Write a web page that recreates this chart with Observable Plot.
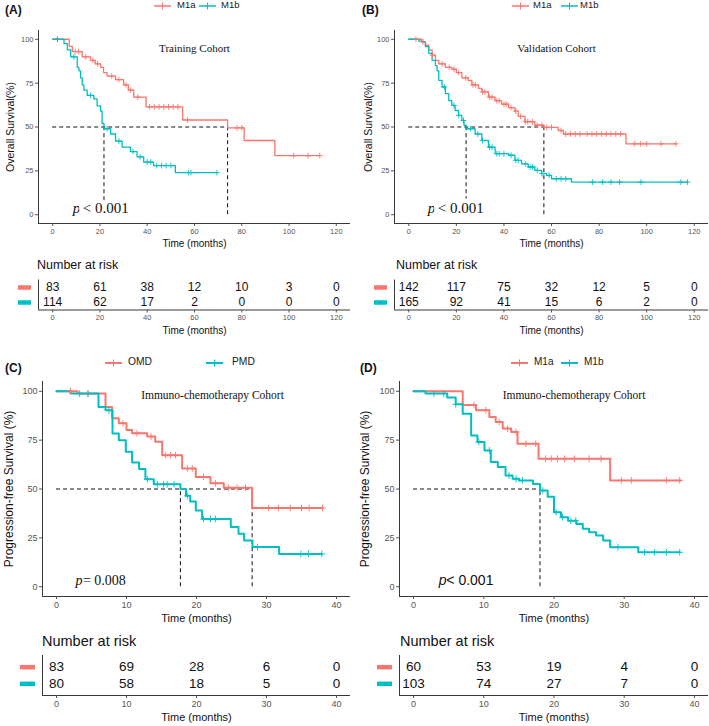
<!DOCTYPE html>
<html>
<head>
<meta charset="utf-8">
<script src="https://cdn.jsdelivr.net/npm/d3@7"></script>
<script src="https://cdn.jsdelivr.net/npm/@observablehq/plot@0.6"></script>
<style>
html,body{margin:0;padding:0;background:#fff;}
#root{position:relative;width:709px;height:726px;overflow:hidden;background:#fff;font-family:"Liberation Sans",Arial,sans-serif;color:#111;}
.abs{position:absolute;white-space:nowrap;line-height:1;}
</style>
</head>
<body>
<div id="root"></div>
<script>
// ---------------- DATA ----------------
const RED = "#F8766D", CYAN = "#00BFC4";

// Panel A : Training Cohort (overall survival)
const aGroups = ["M1a", "M1b"];
const aM1aTime = [0, 7, 8.3, 12.5, 16, 18, 20.3, 21.5, 23, 26.6, 30, 32, 34.3, 39.5, 55, 74, 81, 94, 113];
const aM1aSurv = [100, 96, 93, 90, 88, 86, 84, 81, 79, 77, 74, 71, 67, 61.5, 54, 49.5, 42.3, 33.7, 33.7];
const aM1aCensor = [2, 9.5, 11, 14, 17, 19, 25, 28, 31, 33, 36, 41, 43, 45, 47, 49, 51, 53, 57, 78, 80, 102, 108, 113];
const aM1bTime = [0, 4.8, 6.2, 7.6, 10.4, 11.1, 11.8, 12.5, 13.2, 14.6, 17.4, 18.8, 20.3, 20.9, 21.7, 24.5, 26.6, 29.4, 32.9, 35.7, 38.5, 42.7, 51.9, 69.5];
const aM1bSurv = [100, 97.5, 94, 90, 84, 82, 78, 74, 71, 68, 66, 62, 59, 52, 49, 46, 42, 38.5, 36, 33, 30, 28, 24, 24];
const aM1bCensor = [2, 9, 16, 23, 28, 34, 37, 40, 41.5, 44, 46, 48, 50, 57.5, 58.5, 69.5];
const aMedians = [74, 21.7];
const aRiskTimes = [0, 20, 40, 60, 80, 100, 120];
const aRiskM1a = [83, 61, 38, 12, 10, 3, 0];
const aRiskM1b = [114, 62, 17, 2, 0, 0, 0];

// Panel B : Validation Cohort (overall survival)
const bGroups = ["M1a", "M1b"];
const bM1aTime = [0, 5.6, 7, 8.4, 9.8, 11.2, 12.6, 15.4, 18.1, 20, 22.3, 25, 26.5, 29.3, 30.7, 33.5, 36.3, 39, 42, 44.6, 46, 48.8, 53, 56.8, 62.8, 65, 91.3, 112.3];
const bM1aSurv = [100, 98.5, 96.6, 94, 91, 88, 86, 84, 83, 81, 78, 76.5, 74, 72, 70, 67, 65, 63, 61, 59, 56, 53, 51, 49.8, 48, 46, 40.4, 40.4];
const bM1aCensor = [3, 6, 10, 14, 17, 19, 21, 24, 27, 28, 31, 32, 34, 35, 37, 38, 40, 41, 43, 45, 47, 49, 50, 52, 54, 56, 58, 60, 64, 66, 68, 70, 72, 75, 77, 79, 81, 83, 85, 87, 89, 95, 97.5, 100, 106, 112.3];
const bM1bTime = [0, 4.2, 5.6, 7, 8.4, 9.8, 11.2, 11.9, 12.6, 14, 15.4, 16.8, 18.1, 19.5, 20.9, 22.3, 23.2, 24.1, 27.9, 30.7, 33.5, 36.3, 41.9, 44.6, 47.4, 50.2, 53, 55.8, 58, 60, 68.4, 117.2];
const bM1bSurv = [100, 99, 98.5, 95.8, 92, 88, 85, 82, 76.6, 72.8, 69, 65, 62.3, 59.4, 56.6, 53.7, 51, 49, 46, 42.3, 38.5, 34.8, 33.9, 31, 29, 27.2, 25.3, 23.4, 22.4, 20.5, 18.6, 18.6];
const bM1bCensor = [15, 19, 21, 23, 26, 29, 31, 34, 35, 37, 38, 40, 43, 45, 46, 49, 51, 52, 54, 56, 59, 62, 64, 66, 77.3, 81.5, 85, 88.6, 97.6, 114.4, 117.2];
const bMedians = [56.8, 24.1];
const bRiskTimes = [0, 20, 40, 60, 80, 100, 120];
const bRiskM1a = [142, 117, 75, 32, 12, 5, 0];
const bRiskM1b = [165, 92, 41, 15, 6, 2, 0];

// Panel C : Immuno-chemotherapy Cohort (PFS, OMD vs PMD)
const cGroups = ["OMD", "PMD"];
const cOMDTime = [0, 3, 7, 7.95, 8.9, 10, 10.8, 12.95, 14.1, 15.1, 17.95, 19.9, 22, 23.9, 27.95, 38];
const cOMDSurv = [100, 98.8, 92, 86.2, 83.6, 80.2, 78.5, 76.8, 74.2, 67.3, 60.5, 56.2, 53, 50.6, 40.3, 40.3];
const cOMDCensor = [2, 4.5, 9.5, 11.5, 13.5, 15.6, 16.3, 17, 18.7, 19.4, 21, 22.7, 24.6, 25.8, 27, 30.3, 31.7, 33.4, 35, 36.1, 38];
const cPMDTime = [0, 2, 6, 7, 8, 8.9, 9.9, 10.8, 11.8, 12.7, 13.9, 17.7, 18.5, 19.1, 19.9, 20.8, 24.9, 26, 26.8, 28, 31.8, 37.9];
const cPMDSurv = [100, 98.8, 92, 90.3, 78.4, 75, 69, 63.6, 60.2, 55, 52.4, 50, 46.5, 43.6, 39, 34.7, 30.5, 27.1, 23.7, 20.3, 16.8, 16.8];
const cPMDCensor = [3.3, 4.5, 7.5, 13, 14.4, 15.3, 15.8, 16.8, 18.7, 21, 22, 22.7, 28.7, 34.9, 36, 37.9];
const cMedians = [27.95, 17.7];
const cRiskTimes = [0, 10, 20, 30, 40];
const cRiskOMD = [83, 69, 28, 6, 0];
const cRiskPMD = [80, 58, 18, 5, 0];

// Panel D : Immuno-chemotherapy Cohort (PFS, M1a vs M1b)
const dGroups = ["M1a", "M1b"];
const dM1aTime = [0, 7, 8.9, 10.8, 11.7, 12.7, 13.9, 14.8, 17.8, 28, 38];
const dM1aSurv = [100, 93, 90.3, 86.9, 84.3, 80.9, 79.2, 73.2, 65.5, 54.4, 54.4];
const dM1aCensor = [8.6, 10.3, 12.2, 13.4, 14.6, 16, 17.4, 18.8, 19.6, 20.5, 21.5, 22.9, 25, 26.7, 29.6, 31, 36, 37.9];
const dM1bTime = [0, 1.7, 4.8, 6, 7, 8.2, 9.1, 10.1, 11, 12, 13.1, 14.1, 15, 17, 18, 19.1, 20, 21, 22, 23.2, 24.1, 25, 26, 27, 28, 32, 37.9];
const dM1bSurv = [100, 98.8, 96.8, 93.3, 88.5, 77.4, 74, 69.7, 63.8, 61.2, 56.9, 55.2, 54.4, 52.6, 49.2, 46, 38.1, 35.6, 33.8, 32.1, 29.6, 27.9, 26.2, 23.6, 20.2, 17.6, 17.6];
const dM1bCensor = [2.9, 4.3, 6, 9.3, 10.8, 13.6, 14.6, 15.5, 18.4, 20.3, 21.2, 22.4, 23.1, 29.1, 32.9, 34.3, 36, 37.9];
const dMedians = [18];
const dRiskTimes = [0, 10, 20, 30, 40];
const dRiskM1a = [60, 53, 19, 4, 0];
const dRiskM1b = [103, 74, 27, 7, 0];

// axis settings
const osTicks = [0, 20, 40, 60, 80, 100, 120];
const osDomain = [-6, 126];
const pfsTicks = [0, 10, 20, 30, 40];
const pfsDomain = [-2, 42];
const kmYDomain = [-5, 105];
const kmYTicks = [0, 25, 50, 75, 100];
const medianLevel = 50;

// ---------------- HELPERS ----------------
const SANS = "'Liberation Sans', Arial, sans-serif";
const SERIF = "'Liberation Serif', 'Times New Roman', serif";
const root = document.getElementById("root");

function place(el, left, top) {
  el.style.position = "absolute";
  el.style.left = left + "px";
  el.style.top = top + "px";
  root.appendChild(el);
}
function htmlText(txt, left, top, css) {
  const d = document.createElement("div");
  d.className = "abs";
  d.textContent = txt;
  Object.assign(d.style, css || {});
  place(d, left, top);
}
function legendItem(color, label, keyLeft, textLeft, centerY, fs, lw) {
  const ns = "http://www.w3.org/2000/svg";
  const w = 17, h = 10;
  const svg = document.createElementNS(ns, "svg");
  svg.setAttribute("width", w); svg.setAttribute("height", h);
  const l1 = document.createElementNS(ns, "line");
  l1.setAttribute("x1", 0); l1.setAttribute("x2", w); l1.setAttribute("y1", h / 2); l1.setAttribute("y2", h / 2);
  l1.setAttribute("stroke", color); l1.setAttribute("stroke-width", lw);
  const l2 = document.createElementNS(ns, "line");
  l2.setAttribute("x1", w / 2); l2.setAttribute("x2", w / 2); l2.setAttribute("y1", 1.5); l2.setAttribute("y2", h - 1.5);
  l2.setAttribute("stroke", color); l2.setAttribute("stroke-width", 1);
  svg.appendChild(l1); svg.appendChild(l2);
  place(svg, keyLeft, centerY - h / 2);
  htmlText(label, textLeft, centerY - 0.5 * fs - 0.1 * fs, {fontSize: fs + "px", color: "#1a1a1a"});
}

function series(name, time, surv, censor) { return {name, time, surv, censor}; }
function survAt(s, t) {
  let v = s.surv[0];
  for (let i = 0; i < s.time.length; i++) if (s.time[i] <= t) v = s.surv[i];
  return v;
}

function kmPlot(o) {
  const rows = o.series.flatMap(s => s.time.map((t, i) => ({t, v: s.surv[i], g: s.name})));
  const cens = o.series.flatMap(s => s.censor.map(t => ({t, v: survAt(s, t), g: s.name})));
  const svg = Plot.plot({
    width: o.width, height: o.height,
    marginLeft: o.ml, marginRight: o.mr, marginTop: o.mt, marginBottom: o.mb,
    x: {domain: o.xDomain},
    y: {domain: kmYDomain},
    color: {domain: o.groups, range: [RED, CYAN]},
    style: {background: "transparent", fontFamily: SANS, overflow: "visible"},
    marks: [
      Plot.ruleX([o.xDomain[0]], {stroke: "#222", strokeWidth: 0.9}),
      Plot.ruleY([kmYDomain[0]], {stroke: "#222", strokeWidth: 0.9}),
      Plot.axisX({ticks: o.xTicks, tickSize: 3, tickPadding: 2, fontSize: o.tickFs, color: "#555", label: null}),
      Plot.axisY({ticks: kmYTicks, tickSize: 3, tickPadding: 2, fontSize: o.tickFs, color: "#555", label: null}),
      Plot.ruleY([medianLevel], {x1: 0, x2: d3.max(o.medians), stroke: "#111", strokeDasharray: "4,3", strokeWidth: 1}),
      Plot.ruleX(o.medians, {y1: 0, y2: medianLevel, stroke: "#111", strokeDasharray: "4,3", strokeWidth: 1}),
      Plot.line(rows, {x: "t", y: "v", z: "g", stroke: "g", curve: "step-after", strokeWidth: o.lw}),
      Plot.dot(cens, {x: "t", y: "v", stroke: "g", symbol: "plus", r: o.cr, strokeWidth: 0.9}),
      Plot.text([o.title], {frameAnchor: "top", lineAnchor: "middle", textAnchor: "middle", dx: o.titleDx, dy: o.titleDy, fontFamily: SERIF, fontSize: o.titleFs, fill: "#111"}),
      Plot.text([o.xLabel], {frameAnchor: "bottom", lineAnchor: "middle", textAnchor: "middle", dy: o.xLabelDy, fontSize: o.labFs, fill: "#111"}),
      Plot.text([o.yLabel], {frameAnchor: "left", lineAnchor: "middle", textAnchor: "middle", rotate: -90, dx: -o.yLabelDx, fontSize: o.yLabFs, fill: "#111"}),
      Plot.text([o.pval], {x: "x", y: "y", text: d => d.p, textAnchor: "start", fontStyle: "italic", fontFamily: o.pFont, fontSize: o.pFs, fill: "#111"}),
      Plot.text([o.pval], {x: "x", y: "y", text: d => d.rest, textAnchor: "start", dx: o.pDx, fontFamily: o.pFont, fontSize: o.pFs, fill: "#111", stroke: "white", strokeWidth: o.halo, paintOrder: "stroke"})
    ]
  });
  place(svg, o.left, o.top);
}

function riskPlot(o) {
  const n = o.groups.length;
  const rows = o.groups.flatMap((g, gi) => o.times.map((t, i) => ({t, row: n - gi, n: o.counts[gi][i], g})));
  const keys = o.groups.map((g, gi) => ({g, row: n - gi}));
  const fw = o.width - o.ml - o.mr;
  const svg = Plot.plot({
    width: o.width, height: o.height,
    marginLeft: o.ml, marginRight: o.mr, marginTop: o.mt, marginBottom: o.mb,
    x: {domain: o.xDomain},
    y: {domain: o.yDomain, axis: null},
    color: {domain: o.groups, range: [RED, CYAN]},
    style: {background: "transparent", fontFamily: SANS, overflow: "visible"},
    marks: [
      Plot.ruleX([o.xDomain[0]], {stroke: "#222", strokeWidth: 0.9}),
      Plot.ruleY([o.yDomain[0]], {stroke: "#222", strokeWidth: 0.9}),
      Plot.axisX({ticks: o.times, tickSize: 3, tickPadding: 2, fontSize: o.tickFs, color: "#555", label: null}),
      Plot.ruleY(keys, {y: "row", stroke: "g", strokeWidth: 4.5, insetLeft: -o.barL, insetRight: fw + o.barR}),
      Plot.text(rows, {x: "t", y: "row", text: "n", fontSize: o.numFs, fill: "#111"}),
      Plot.text([o.xLabel], {frameAnchor: "bottom", lineAnchor: "middle", textAnchor: "middle", dy: o.xLabelDy, fontSize: o.labFs, fill: "#111"})
    ]
  });
  place(svg, o.left, o.top);
}

// ---------------- PANELS ----------------
const osCommon = {width: 355, height: 252, mt: 30, mb: 29, xDomain: osDomain, xTicks: osTicks,
  lw: 1.3, cr: 2, tickFs: 7.5, labFs: 10, yLabFs: 10.5, titleFs: 11, titleDy: 18, xLabelDy: 20,
  xLabel: "Time (months)", yLabel: "Overall Survival(%)", pFont: SERIF, pFs: 15, pDx: 10, halo: 9};

kmPlot(Object.assign({}, osCommon, {
  left: 0, top: 0, ml: 38, mr: 5, groups: aGroups,
  series: [series("M1a", aM1aTime, aM1aSurv, aM1aCensor), series("M1b", aM1bTime, aM1bSurv, aM1bCensor)],
  medians: aMedians, title: "Training Cohort", titleDx: 0, yLabelDx: 28,
  pval: {x: 8.5, y: 3.5, p: "p", rest: "< 0.001"}
}));
kmPlot(Object.assign({}, osCommon, {
  left: 355, top: 0, width: 354, ml: 39, mr: 1, groups: bGroups,
  series: [series("M1a", bM1aTime, bM1aSurv, bM1aCensor), series("M1b", bM1bTime, bM1bSurv, bM1bCensor)],
  medians: bMedians, title: "Validation Cohort", titleDx: 5, yLabelDx: 26,
  pval: {x: 8, y: 3.5, p: "p", rest: "< 0.001"}
}));

const osRisk = {height: 66, mt: 7.5, mb: 28.5, xDomain: osDomain, yDomain: [0.5, 2.5], tickFs: 7.5, labFs: 10,
  numFs: 12, xLabelDy: 20.5, xLabel: "Time (months)", barL: 20, barR: 7};
riskPlot(Object.assign({}, osRisk, {left: 0, top: 272, width: 355, ml: 38, mr: 5, groups: aGroups,
  times: aRiskTimes, counts: [aRiskM1a, aRiskM1b]}));
riskPlot(Object.assign({}, osRisk, {left: 355, top: 272, width: 354, ml: 39, mr: 1, groups: bGroups,
  times: bRiskTimes, counts: [bRiskM1a, bRiskM1b]}));

const pfsCommon = {height: 290, mt: 41, mb: 34, xDomain: pfsDomain, xTicks: pfsTicks,
  lw: 2, cr: 2.3, tickFs: 9, labFs: 11, yLabFs: 12, titleFs: 11.5, titleDy: 14, xLabelDy: 22,
  xLabel: "Time (months)", yLabel: "Progression-free Survival (%)", pFs: 14, halo: 0};

kmPlot(Object.assign({}, pfsCommon, {
  left: 0, top: 340, width: 355, ml: 42, mr: 5, groups: cGroups,
  series: [series("OMD", cOMDTime, cOMDSurv, cOMDCensor), series("PMD", cPMDTime, cPMDSurv, cPMDCensor)],
  medians: cMedians, title: "Immuno-chemotherapy Cohort", titleDx: 16, yLabelDx: 33,
  pFont: SERIF, pDx: 7.5, pval: {x: 2.7, y: 3.1, p: "p", rest: "= 0.008"}
}));
kmPlot(Object.assign({}, pfsCommon, {
  left: 355, top: 340, width: 354, ml: 44, mr: 1, groups: dGroups,
  series: [series("M1a", dM1aTime, dM1aSurv, dM1aCensor), series("M1b", dM1bTime, dM1bSurv, dM1bCensor)],
  medians: dMedians, title: "Immuno-chemotherapy Cohort", titleDx: 20, yLabelDx: 34,
  pFont: SANS, pDx: 7.5, pval: {x: 3.6, y: 3.1, p: "p", rest: "< 0.001"}
}));

const pfsRisk = {height: 81, mt: 10, mb: 31, xDomain: pfsDomain, yDomain: [0.3, 2.7], tickFs: 9, labFs: 11,
  numFs: 13.5, xLabelDy: 22, xLabel: "Time (months)", barL: 22, barR: 7};
riskPlot(Object.assign({}, pfsRisk, {left: 0, top: 645, width: 355, ml: 42, mr: 5, groups: cGroups,
  times: cRiskTimes, counts: [cRiskOMD, cRiskPMD]}));
riskPlot(Object.assign({}, pfsRisk, {left: 355, top: 645, width: 354, ml: 44, mr: 1, groups: dGroups,
  times: dRiskTimes, counts: [dRiskM1a, dRiskM1b]}));

// ---------------- TEXT / LEGENDS ----------------
const tagCss = {fontSize: "12px", fontWeight: "bold", color: "#111"};
htmlText("(A)", 5, 4, tagCss);
htmlText("(B)", 362, 4, tagCss);
htmlText("(C)", 5, 362, tagCss);
htmlText("(D)", 360, 362, tagCss);

htmlText("Number at risk", 37, 258.5, {fontSize: "12.5px"});
htmlText("Number at risk", 396, 258.5, {fontSize: "12.5px"});
htmlText("Number at risk", 42, 634, {fontSize: "14.5px"});
htmlText("Number at risk", 400, 634, {fontSize: "14.5px"});

legendItem(RED, aGroups[0], 154, 177, 6, 9.5, 1.5);
legendItem(CYAN, aGroups[1], 199, 221, 6, 9.5, 1.5);
legendItem(RED, bGroups[0], 512, 533, 6, 9.5, 1.5);
legendItem(CYAN, bGroups[1], 561, 580, 6, 9.5, 1.5);
legendItem(RED, cGroups[0], 105, 128, 363, 10.3, 2);
legendItem(CYAN, cGroups[1], 206, 232, 363, 10.3, 2);
legendItem(RED, dGroups[0], 511, 534, 363, 10, 2);
legendItem(CYAN, dGroups[1], 561, 584, 363, 10, 2);
</script>
</body>
</html>
